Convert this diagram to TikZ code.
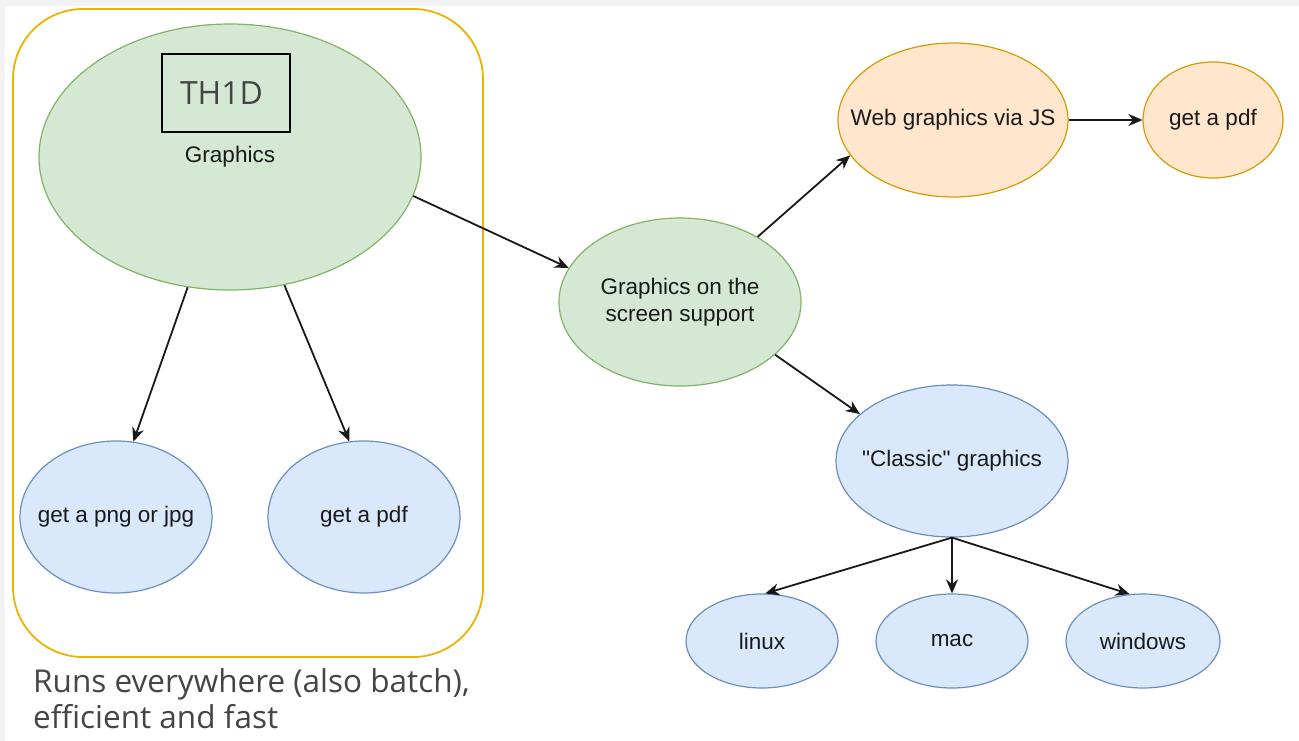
\documentclass[tikz,border=0pt]{standalone}
\usepackage{fontspec}
\setmainfont{Liberation Sans}
\newfontfamily\opensans{Open Sans}
\usetikzlibrary{shapes.geometric,arrows.meta}
\definecolor{bggray}{HTML}{F2F2F2}
\definecolor{framegold}{RGB}{240,178,0}
\definecolor{greenfill}{HTML}{D5E8D4}
\definecolor{greenline}{HTML}{82B366}
\definecolor{bluefill}{HTML}{DAE8FC}
\definecolor{blueline}{HTML}{6C8EBF}
\definecolor{orangefill}{HTML}{FFE6CC}
\definecolor{orangeline}{HTML}{D79B00}
\definecolor{textdark}{HTML}{1A1A1A}
\definecolor{textgray}{HTML}{454545}
\begin{document}
\begin{tikzpicture}[x=1pt,y=-1pt,
  bubble/.style={ellipse, line width=1.2pt, inner sep=-30pt, align=center,
    text=textdark, font=\fontsize{22.5}{27}\selectfont},
  greenbub/.style={bubble, fill=greenfill, draw=greenline},
  bluebub/.style={bubble, fill=bluefill, draw=blueline},
  orangebub/.style={bubble, fill=orangefill, draw=orangeline},
  arr/.style={-{Stealth[length=14pt,width=12pt]}, line width=1.8pt, draw=black!90},
  note/.style={anchor=base west, inner sep=0pt, text=textgray,
    font=\opensans\fontsize{31.5}{36}\selectfont}]

  % Background and frame
  \fill[bggray] (0,0) rectangle (1299,741);
  \fill[white] (5,6) rectangle (1299,741);
  \useasboundingbox (0,0) rectangle (1299,741);
  \draw[framegold, line width=1.8pt, rounded corners=70pt] (13,9) rectangle (483,657);

  % Define nodes for all elements
  \node[greenbub, minimum width=382pt, minimum height=266pt] (G) at (230,157) {Graphics};
  \node[draw=black, line width=1.4pt, minimum width=128pt, minimum height=78pt,
    inner xsep=18pt, text width=92pt, align=left,
    text=textgray, font=\opensans\fontsize{32}{36}\selectfont] (TH) at (226,93) {TH1D};
  \node[bluebub, minimum width=192pt, minimum height=152pt] (png) at (116,517) {get a png or jpg};
  \node[bluebub, minimum width=192pt, minimum height=152pt] (pdfL) at (364,517) {get a pdf};
  \node[greenbub, minimum width=242pt, minimum height=168pt] (S) at (680,302) {Graphics on the\\screen support};
  \node[orangebub, minimum width=230pt, minimum height=154pt] (W) at (953,120) {Web graphics via JS};
  \node[orangebub, minimum width=140pt, minimum height=116pt] (pdfR) at (1213,120) {get a pdf};
  \node[bluebub, minimum width=232pt, minimum height=152pt] (C) at (952,461) {\textquotedbl Classic\textquotedbl{} graphics};
  \node[bluebub, minimum width=152pt, minimum height=94pt] (lin) at (762,641) {linux};
  \node[bluebub, minimum width=152pt, minimum height=94pt] (mac) at (952,641) {mac};
  \node[bluebub, minimum width=154pt, minimum height=94pt] (win) at (1143,641) {windows};
  \node[note] (note1) at (33,692) {Runs everywhere (also batch),};
  \node[note] (note2) at (33,728) {efficient and fast};

  % Draw arrows
  \draw[arr] (G.-108) -- (png.77);
  \draw[arr] (G.-67) -- (pdfL.101);
  \draw[arr] (G.-12) -- (S.163);
  \draw[arr] (S.40) -- (W.-161);
  \draw[arr] (W) -- (pdfR);
  \draw[arr] (S.-29) -- (C.153);
  \draw[arr] (C.south) -- (lin.86);
  \draw[arr] (C.south) -- (mac.north);
  \draw[arr] (C.south) -- (win.106);

\end{tikzpicture}
\end{document}
